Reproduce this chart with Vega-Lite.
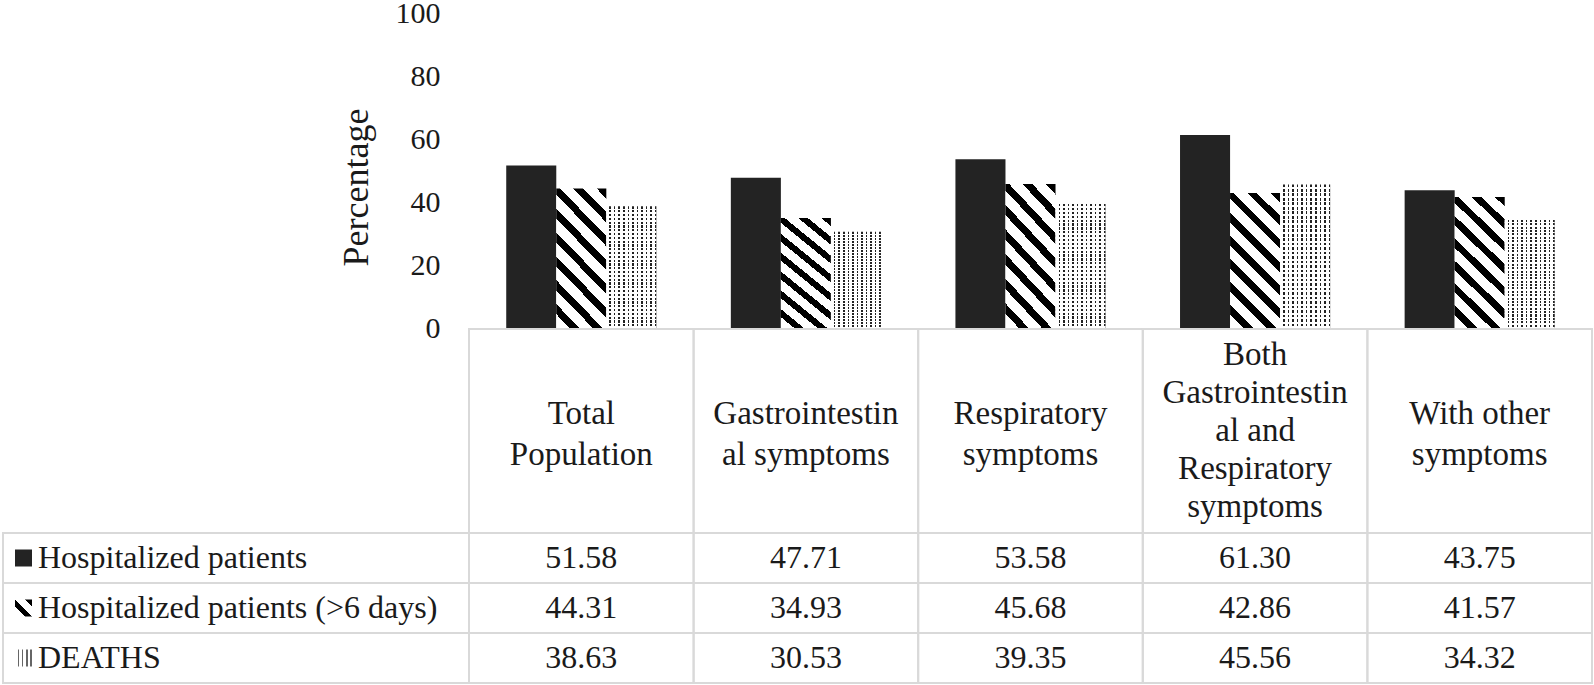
{
  "$schema": "https://vega.github.io/schema/vega-lite/v6.json",
  "width": 1594,
  "height": 685,
  "autosize": {"type": "none"},
  "padding": 0,
  "background": "white",
  "config": {"view": {"stroke": null}},
  "datasets": {
    "bars": [
      {"cat": "Total Population", "series": "Hospitalized patients", "value": 51.58},
      {"cat": "Total Population", "series": "Hospitalized patients (>6 days)", "value": 44.31},
      {"cat": "Total Population", "series": "DEATHS", "value": 38.63},
      {"cat": "Gastrointestinal symptoms", "series": "Hospitalized patients", "value": 47.71},
      {"cat": "Gastrointestinal symptoms", "series": "Hospitalized patients (>6 days)", "value": 34.93},
      {"cat": "Gastrointestinal symptoms", "series": "DEATHS", "value": 30.53},
      {"cat": "Respiratory symptoms", "series": "Hospitalized patients", "value": 53.58},
      {"cat": "Respiratory symptoms", "series": "Hospitalized patients (>6 days)", "value": 45.68},
      {"cat": "Respiratory symptoms", "series": "DEATHS", "value": 39.35},
      {"cat": "Both Gastrointestinal and Respiratory symptoms", "series": "Hospitalized patients", "value": 61.30},
      {"cat": "Both Gastrointestinal and Respiratory symptoms", "series": "Hospitalized patients (>6 days)", "value": 42.86},
      {"cat": "Both Gastrointestinal and Respiratory symptoms", "series": "DEATHS", "value": 45.56},
      {"cat": "With other symptoms", "series": "Hospitalized patients", "value": 43.75},
      {"cat": "With other symptoms", "series": "Hospitalized patients (>6 days)", "value": 41.57},
      {"cat": "With other symptoms", "series": "DEATHS", "value": 34.32}
    ],
    "cats": [
      {"cat": "Total Population", "label": "Total|Population"},
      {"cat": "Gastrointestinal symptoms", "label": "Gastrointestin|al symptoms"},
      {"cat": "Respiratory symptoms", "label": "Respiratory|symptoms"},
      {"cat": "Both Gastrointestinal and Respiratory symptoms", "label": "Both|Gastrointestin|al and|Respiratory|symptoms"},
      {"cat": "With other symptoms", "label": "With other|symptoms"}
    ],
    "series": [
      {"series": "Hospitalized patients"},
      {"series": "Hospitalized patients (>6 days)"},
      {"series": "DEATHS"}
    ]
  },
  "resolve": {"scale": {"x": "independent", "y": "independent", "xOffset": "independent"}},
  "layer": [
    {
      "data": {"name": "bars"},
      "mark": {"type": "bar"},
      "encoding": {
        "x": {"field": "cat", "type": "nominal", "axis": null,
          "scale": {"domain": ["Total Population", "Gastrointestinal symptoms", "Respiratory symptoms", "Both Gastrointestinal and Respiratory symptoms", "With other symptoms"], "range": [469, 1592], "paddingInner": 0, "paddingOuter": 0}},
        "xOffset": {"field": "series", "type": "nominal",
          "scale": {"domain": ["Hospitalized patients", "Hospitalized patients (>6 days)", "DEATHS"], "paddingInner": 0, "paddingOuter": 0.744}},
        "y": {"field": "value", "type": "quantitative",
          "scale": {"domain": [0, 100], "range": [328, 13], "nice": false, "zero": true},
          "axis": {"orient": "left", "offset": -440, "domain": false, "ticks": false, "grid": false, "labelPadding": 0,
            "values": [0, 20, 40, 60, 80, 100], "labelFont": "Liberation Serif", "labelFontSize": 30, "labelColor": "#1a1a1a",
            "labelFlush": false, "labelOverlap": false,
            "title": "Percentage", "titleFont": "Liberation Serif", "titleFontSize": 36, "titleFontWeight": "normal", "titleColor": "#1a1a1a",
            "titleAngle": -90, "titleX": -73, "titleY": 187, "titleAlign": "center", "titleBaseline": "alphabetic"}},
        "fill": {
          "condition": [
            {"test": "datum.series === 'Hospitalized patients (>6 days)'", "value": {"gradient": "linear", "x1": 0, "y1": 1, "x2": 0.4463, "y2": -0.2051, "stops": [
              {"offset": 0, "color": "#ffffff"}, {"offset": 0.072, "color": "#ffffff"}, {"offset": 0.072, "color": "#000000"}, {"offset": 0.125, "color": "#000000"},
              {"offset": 0.125, "color": "#ffffff"}, {"offset": 0.197, "color": "#ffffff"}, {"offset": 0.197, "color": "#000000"}, {"offset": 0.25, "color": "#000000"},
              {"offset": 0.25, "color": "#ffffff"}, {"offset": 0.322, "color": "#ffffff"}, {"offset": 0.322, "color": "#000000"}, {"offset": 0.375, "color": "#000000"},
              {"offset": 0.375, "color": "#ffffff"}, {"offset": 0.447, "color": "#ffffff"}, {"offset": 0.447, "color": "#000000"}, {"offset": 0.5, "color": "#000000"},
              {"offset": 0.5, "color": "#ffffff"}, {"offset": 0.572, "color": "#ffffff"}, {"offset": 0.572, "color": "#000000"}, {"offset": 0.625, "color": "#000000"},
              {"offset": 0.625, "color": "#ffffff"}, {"offset": 0.697, "color": "#ffffff"}, {"offset": 0.697, "color": "#000000"}, {"offset": 0.75, "color": "#000000"},
              {"offset": 0.75, "color": "#ffffff"}, {"offset": 0.822, "color": "#ffffff"}, {"offset": 0.822, "color": "#000000"}, {"offset": 0.875, "color": "#000000"},
              {"offset": 0.875, "color": "#ffffff"}, {"offset": 0.947, "color": "#ffffff"}, {"offset": 0.947, "color": "#000000"}, {"offset": 1, "color": "#000000"}
            ]}},
            {"test": "datum.series === 'DEATHS'", "value": {"gradient": "linear", "x1": 0, "y1": 0, "x2": 1, "y2": 0, "stops": [
              {"offset": 0, "color": "#ffffff"}, {"offset": 0.06, "color": "#ffffff"}, {"offset": 0.06, "color": "#222222"}, {"offset": 0.0909, "color": "#222222"},
              {"offset": 0.0909, "color": "#ffffff"}, {"offset": 0.1509, "color": "#ffffff"}, {"offset": 0.1509, "color": "#222222"}, {"offset": 0.1818, "color": "#222222"},
              {"offset": 0.1818, "color": "#ffffff"}, {"offset": 0.2418, "color": "#ffffff"}, {"offset": 0.2418, "color": "#222222"}, {"offset": 0.2727, "color": "#222222"},
              {"offset": 0.2727, "color": "#ffffff"}, {"offset": 0.3327, "color": "#ffffff"}, {"offset": 0.3327, "color": "#222222"}, {"offset": 0.3636, "color": "#222222"},
              {"offset": 0.3636, "color": "#ffffff"}, {"offset": 0.4236, "color": "#ffffff"}, {"offset": 0.4236, "color": "#222222"}, {"offset": 0.4545, "color": "#222222"},
              {"offset": 0.4545, "color": "#ffffff"}, {"offset": 0.5145, "color": "#ffffff"}, {"offset": 0.5145, "color": "#222222"}, {"offset": 0.5455, "color": "#222222"},
              {"offset": 0.5455, "color": "#ffffff"}, {"offset": 0.6055, "color": "#ffffff"}, {"offset": 0.6055, "color": "#222222"}, {"offset": 0.6364, "color": "#222222"},
              {"offset": 0.6364, "color": "#ffffff"}, {"offset": 0.6964, "color": "#ffffff"}, {"offset": 0.6964, "color": "#222222"}, {"offset": 0.7273, "color": "#222222"},
              {"offset": 0.7273, "color": "#ffffff"}, {"offset": 0.7873, "color": "#ffffff"}, {"offset": 0.7873, "color": "#222222"}, {"offset": 0.8182, "color": "#222222"},
              {"offset": 0.8182, "color": "#ffffff"}, {"offset": 0.8782, "color": "#ffffff"}, {"offset": 0.8782, "color": "#222222"}, {"offset": 0.9091, "color": "#222222"},
              {"offset": 0.9091, "color": "#ffffff"}, {"offset": 0.9691, "color": "#ffffff"}, {"offset": 0.9691, "color": "#222222"}, {"offset": 1, "color": "#222222"}
            ]}}
          ],
          "value": "#232323"
        }
      }
    },
    {
      "data": {"name": "bars"},
      "transform": [{"filter": "datum.series === 'DEATHS'"}],
      "mark": {"type": "bar"},
      "encoding": {
        "x": {"field": "cat", "type": "nominal", "axis": null,
          "scale": {"domain": ["Total Population", "Gastrointestinal symptoms", "Respiratory symptoms", "Both Gastrointestinal and Respiratory symptoms", "With other symptoms"], "range": [469, 1592], "paddingInner": 0, "paddingOuter": 0}},
        "xOffset": {"field": "series", "type": "nominal",
          "scale": {"domain": ["Hospitalized patients", "Hospitalized patients (>6 days)", "DEATHS"], "paddingInner": 0, "paddingOuter": 0.744}},
        "y": {"field": "value", "type": "quantitative", "axis": null,
          "scale": {"domain": [0, 100], "range": [328, 13], "nice": false, "zero": true}},
        "fill": {"value": {"gradient": "linear", "x1": 0, "y1": 0, "x2": 0, "y2": 1, "stops": [
          {"offset": 0, "color": "rgba(255,255,255,0)"}, {"offset": 0.01875, "color": "rgba(255,255,255,0)"}, {"offset": 0.01875, "color": "#ffffff"}, {"offset": 0.03125, "color": "#ffffff"},
          {"offset": 0.03125, "color": "rgba(255,255,255,0)"}, {"offset": 0.05, "color": "rgba(255,255,255,0)"}, {"offset": 0.05, "color": "#ffffff"}, {"offset": 0.0625, "color": "#ffffff"},
          {"offset": 0.0625, "color": "rgba(255,255,255,0)"}, {"offset": 0.08125, "color": "rgba(255,255,255,0)"}, {"offset": 0.08125, "color": "#ffffff"}, {"offset": 0.09375, "color": "#ffffff"},
          {"offset": 0.09375, "color": "rgba(255,255,255,0)"}, {"offset": 0.1125, "color": "rgba(255,255,255,0)"}, {"offset": 0.1125, "color": "#ffffff"}, {"offset": 0.125, "color": "#ffffff"},
          {"offset": 0.125, "color": "rgba(255,255,255,0)"}, {"offset": 0.14375, "color": "rgba(255,255,255,0)"}, {"offset": 0.14375, "color": "#ffffff"}, {"offset": 0.15625, "color": "#ffffff"},
          {"offset": 0.15625, "color": "rgba(255,255,255,0)"}, {"offset": 0.175, "color": "rgba(255,255,255,0)"}, {"offset": 0.175, "color": "#ffffff"}, {"offset": 0.1875, "color": "#ffffff"},
          {"offset": 0.1875, "color": "rgba(255,255,255,0)"}, {"offset": 0.20625, "color": "rgba(255,255,255,0)"}, {"offset": 0.20625, "color": "#ffffff"}, {"offset": 0.21875, "color": "#ffffff"},
          {"offset": 0.21875, "color": "rgba(255,255,255,0)"}, {"offset": 0.2375, "color": "rgba(255,255,255,0)"}, {"offset": 0.2375, "color": "#ffffff"}, {"offset": 0.25, "color": "#ffffff"},
          {"offset": 0.25, "color": "rgba(255,255,255,0)"}, {"offset": 0.26875, "color": "rgba(255,255,255,0)"}, {"offset": 0.26875, "color": "#ffffff"}, {"offset": 0.28125, "color": "#ffffff"},
          {"offset": 0.28125, "color": "rgba(255,255,255,0)"}, {"offset": 0.3, "color": "rgba(255,255,255,0)"}, {"offset": 0.3, "color": "#ffffff"}, {"offset": 0.3125, "color": "#ffffff"},
          {"offset": 0.3125, "color": "rgba(255,255,255,0)"}, {"offset": 0.33125, "color": "rgba(255,255,255,0)"}, {"offset": 0.33125, "color": "#ffffff"}, {"offset": 0.34375, "color": "#ffffff"},
          {"offset": 0.34375, "color": "rgba(255,255,255,0)"}, {"offset": 0.3625, "color": "rgba(255,255,255,0)"}, {"offset": 0.3625, "color": "#ffffff"}, {"offset": 0.375, "color": "#ffffff"},
          {"offset": 0.375, "color": "rgba(255,255,255,0)"}, {"offset": 0.39375, "color": "rgba(255,255,255,0)"}, {"offset": 0.39375, "color": "#ffffff"}, {"offset": 0.40625, "color": "#ffffff"},
          {"offset": 0.40625, "color": "rgba(255,255,255,0)"}, {"offset": 0.425, "color": "rgba(255,255,255,0)"}, {"offset": 0.425, "color": "#ffffff"}, {"offset": 0.4375, "color": "#ffffff"},
          {"offset": 0.4375, "color": "rgba(255,255,255,0)"}, {"offset": 0.45625, "color": "rgba(255,255,255,0)"}, {"offset": 0.45625, "color": "#ffffff"}, {"offset": 0.46875, "color": "#ffffff"},
          {"offset": 0.46875, "color": "rgba(255,255,255,0)"}, {"offset": 0.4875, "color": "rgba(255,255,255,0)"}, {"offset": 0.4875, "color": "#ffffff"}, {"offset": 0.5, "color": "#ffffff"},
          {"offset": 0.5, "color": "rgba(255,255,255,0)"}, {"offset": 0.51875, "color": "rgba(255,255,255,0)"}, {"offset": 0.51875, "color": "#ffffff"}, {"offset": 0.53125, "color": "#ffffff"},
          {"offset": 0.53125, "color": "rgba(255,255,255,0)"}, {"offset": 0.55, "color": "rgba(255,255,255,0)"}, {"offset": 0.55, "color": "#ffffff"}, {"offset": 0.5625, "color": "#ffffff"},
          {"offset": 0.5625, "color": "rgba(255,255,255,0)"}, {"offset": 0.58125, "color": "rgba(255,255,255,0)"}, {"offset": 0.58125, "color": "#ffffff"}, {"offset": 0.59375, "color": "#ffffff"},
          {"offset": 0.59375, "color": "rgba(255,255,255,0)"}, {"offset": 0.6125, "color": "rgba(255,255,255,0)"}, {"offset": 0.6125, "color": "#ffffff"}, {"offset": 0.625, "color": "#ffffff"},
          {"offset": 0.625, "color": "rgba(255,255,255,0)"}, {"offset": 0.64375, "color": "rgba(255,255,255,0)"}, {"offset": 0.64375, "color": "#ffffff"}, {"offset": 0.65625, "color": "#ffffff"},
          {"offset": 0.65625, "color": "rgba(255,255,255,0)"}, {"offset": 0.675, "color": "rgba(255,255,255,0)"}, {"offset": 0.675, "color": "#ffffff"}, {"offset": 0.6875, "color": "#ffffff"},
          {"offset": 0.6875, "color": "rgba(255,255,255,0)"}, {"offset": 0.70625, "color": "rgba(255,255,255,0)"}, {"offset": 0.70625, "color": "#ffffff"}, {"offset": 0.71875, "color": "#ffffff"},
          {"offset": 0.71875, "color": "rgba(255,255,255,0)"}, {"offset": 0.7375, "color": "rgba(255,255,255,0)"}, {"offset": 0.7375, "color": "#ffffff"}, {"offset": 0.75, "color": "#ffffff"},
          {"offset": 0.75, "color": "rgba(255,255,255,0)"}, {"offset": 0.76875, "color": "rgba(255,255,255,0)"}, {"offset": 0.76875, "color": "#ffffff"}, {"offset": 0.78125, "color": "#ffffff"},
          {"offset": 0.78125, "color": "rgba(255,255,255,0)"}, {"offset": 0.8, "color": "rgba(255,255,255,0)"}, {"offset": 0.8, "color": "#ffffff"}, {"offset": 0.8125, "color": "#ffffff"},
          {"offset": 0.8125, "color": "rgba(255,255,255,0)"}, {"offset": 0.83125, "color": "rgba(255,255,255,0)"}, {"offset": 0.83125, "color": "#ffffff"}, {"offset": 0.84375, "color": "#ffffff"},
          {"offset": 0.84375, "color": "rgba(255,255,255,0)"}, {"offset": 0.8625, "color": "rgba(255,255,255,0)"}, {"offset": 0.8625, "color": "#ffffff"}, {"offset": 0.875, "color": "#ffffff"},
          {"offset": 0.875, "color": "rgba(255,255,255,0)"}, {"offset": 0.89375, "color": "rgba(255,255,255,0)"}, {"offset": 0.89375, "color": "#ffffff"}, {"offset": 0.90625, "color": "#ffffff"},
          {"offset": 0.90625, "color": "rgba(255,255,255,0)"}, {"offset": 0.925, "color": "rgba(255,255,255,0)"}, {"offset": 0.925, "color": "#ffffff"}, {"offset": 0.9375, "color": "#ffffff"},
          {"offset": 0.9375, "color": "rgba(255,255,255,0)"}, {"offset": 0.95625, "color": "rgba(255,255,255,0)"}, {"offset": 0.95625, "color": "#ffffff"}, {"offset": 0.96875, "color": "#ffffff"},
          {"offset": 0.96875, "color": "rgba(255,255,255,0)"}, {"offset": 0.9875, "color": "rgba(255,255,255,0)"}, {"offset": 0.9875, "color": "#ffffff"}, {"offset": 1, "color": "#ffffff"}
        ]}}
      }
    },
    {
      "data": {"name": "cats"},
      "mark": {"type": "rect", "fill": "transparent", "stroke": "#d9d9d9", "strokeWidth": 2},
      "encoding": {
        "x": {"field": "cat", "type": "nominal", "axis": null,
          "scale": {"domain": ["Total Population", "Gastrointestinal symptoms", "Respiratory symptoms", "Both Gastrointestinal and Respiratory symptoms", "With other symptoms"], "range": [469, 1592], "paddingInner": 0, "paddingOuter": 0}},
        "y": {"datum": "header", "type": "nominal", "axis": null,
          "scale": {"domain": ["header"], "range": [329, 533], "paddingInner": 0, "paddingOuter": 0}}
      }
    },
    {
      "data": {"name": "cats"},
      "transform": [{"filter": "datum.cat !== 'Both Gastrointestinal and Respiratory symptoms'"}],
      "mark": {"type": "text", "font": "Liberation Serif", "fontSize": 33, "lineBreak": "|", "lineHeight": 41, "dy": -17, "color": "#1a1a1a", "align": "center", "baseline": "middle"},
      "encoding": {
        "x": {"field": "cat", "type": "nominal", "axis": null,
          "scale": {"domain": ["Total Population", "Gastrointestinal symptoms", "Respiratory symptoms", "Both Gastrointestinal and Respiratory symptoms", "With other symptoms"], "range": [469, 1592], "paddingInner": 0, "paddingOuter": 0}},
        "y": {"datum": "header", "type": "nominal", "axis": null,
          "scale": {"domain": ["header"], "range": [329, 533], "paddingInner": 0, "paddingOuter": 0}},
        "text": {"field": "label"}
      }
    },
    {
      "data": {"name": "cats"},
      "transform": [{"filter": "datum.cat === 'Both Gastrointestinal and Respiratory symptoms'"}],
      "mark": {"type": "text", "font": "Liberation Serif", "fontSize": 33, "lineBreak": "|", "lineHeight": 38, "dy": -76, "color": "#1a1a1a", "align": "center", "baseline": "middle"},
      "encoding": {
        "x": {"field": "cat", "type": "nominal", "axis": null,
          "scale": {"domain": ["Total Population", "Gastrointestinal symptoms", "Respiratory symptoms", "Both Gastrointestinal and Respiratory symptoms", "With other symptoms"], "range": [469, 1592], "paddingInner": 0, "paddingOuter": 0}},
        "y": {"datum": "header", "type": "nominal", "axis": null,
          "scale": {"domain": ["header"], "range": [329, 533], "paddingInner": 0, "paddingOuter": 0}},
        "text": {"field": "label"}
      }
    },
    {
      "data": {"name": "bars"},
      "mark": {"type": "rect", "fill": "transparent", "stroke": "#d9d9d9", "strokeWidth": 2},
      "encoding": {
        "x": {"field": "cat", "type": "nominal", "axis": null,
          "scale": {"domain": ["Total Population", "Gastrointestinal symptoms", "Respiratory symptoms", "Both Gastrointestinal and Respiratory symptoms", "With other symptoms"], "range": [469, 1592], "paddingInner": 0, "paddingOuter": 0}},
        "y": {"field": "series", "type": "nominal", "axis": null,
          "scale": {"domain": ["Hospitalized patients", "Hospitalized patients (>6 days)", "DEATHS"], "range": [533, 683], "paddingInner": 0, "paddingOuter": 0}}
      }
    },
    {
      "data": {"name": "bars"},
      "mark": {"type": "text", "font": "Liberation Serif", "fontSize": 32, "color": "#1a1a1a", "align": "center", "baseline": "middle"},
      "encoding": {
        "x": {"field": "cat", "type": "nominal", "axis": null,
          "scale": {"domain": ["Total Population", "Gastrointestinal symptoms", "Respiratory symptoms", "Both Gastrointestinal and Respiratory symptoms", "With other symptoms"], "range": [469, 1592], "paddingInner": 0, "paddingOuter": 0}},
        "y": {"field": "series", "type": "nominal", "axis": null,
          "scale": {"domain": ["Hospitalized patients", "Hospitalized patients (>6 days)", "DEATHS"], "range": [533, 683], "paddingInner": 0, "paddingOuter": 0}},
        "text": {"field": "value", "type": "quantitative", "format": ".2f"}
      }
    },
    {
      "data": {"name": "series"},
      "mark": {"type": "rect", "fill": "transparent", "stroke": "#d9d9d9", "strokeWidth": 2},
      "encoding": {
        "x": {"datum": "legend", "type": "nominal", "axis": null,
          "scale": {"domain": ["legend"], "range": [3, 469], "paddingInner": 0, "paddingOuter": 0}},
        "y": {"field": "series", "type": "nominal", "axis": null,
          "scale": {"domain": ["Hospitalized patients", "Hospitalized patients (>6 days)", "DEATHS"], "range": [533, 683], "paddingInner": 0, "paddingOuter": 0}}
      }
    },
    {
      "data": {"name": "series"},
      "mark": {"type": "text", "font": "Liberation Serif", "fontSize": 32, "color": "#1a1a1a", "align": "left", "baseline": "middle"},
      "encoding": {
        "x": {"datum": "legend", "type": "nominal", "axis": null,
          "scale": {"domain": ["legend"], "range": [37, 39], "paddingInner": 0, "paddingOuter": 0}},
        "y": {"field": "series", "type": "nominal", "axis": null,
          "scale": {"domain": ["Hospitalized patients", "Hospitalized patients (>6 days)", "DEATHS"], "range": [533, 683], "paddingInner": 0, "paddingOuter": 0}},
        "text": {"field": "series"}
      }
    },
    {
      "data": {"name": "series"},
      "mark": {"type": "point", "shape": "square", "size": 289, "filled": true, "opacity": 1},
      "encoding": {
        "x": {"datum": "legend", "type": "nominal", "axis": null,
          "scale": {"domain": ["legend"], "range": [22.5, 24.5], "paddingInner": 0, "paddingOuter": 0}},
        "y": {"field": "series", "type": "nominal", "axis": null,
          "scale": {"domain": ["Hospitalized patients", "Hospitalized patients (>6 days)", "DEATHS"], "range": [533, 683], "paddingInner": 0, "paddingOuter": 0}},
        "fill": {
          "condition": [
            {"test": "datum.series === 'Hospitalized patients (>6 days)'", "value": {"gradient": "linear", "x1": 0, "y1": 1, "x2": 1, "y2": 0, "stops": [
              {"offset": 0, "color": "#ffffff"}, {"offset": 0.3, "color": "#ffffff"}, {"offset": 0.3, "color": "#000000"}, {"offset": 0.5, "color": "#000000"},
              {"offset": 0.5, "color": "#ffffff"}, {"offset": 0.8, "color": "#ffffff"}, {"offset": 0.8, "color": "#000000"}, {"offset": 1, "color": "#000000"}
            ]}},
            {"test": "datum.series === 'DEATHS'", "value": {"gradient": "linear", "x1": 0, "y1": 0, "x2": 1, "y2": 0, "stops": [
              {"offset": 0, "color": "#ffffff"}, {"offset": 0.15, "color": "#ffffff"}, {"offset": 0.15, "color": "#666666"}, {"offset": 0.25, "color": "#666666"},
              {"offset": 0.25, "color": "#ffffff"}, {"offset": 0.4, "color": "#ffffff"}, {"offset": 0.4, "color": "#666666"}, {"offset": 0.5, "color": "#666666"},
              {"offset": 0.5, "color": "#ffffff"}, {"offset": 0.65, "color": "#ffffff"}, {"offset": 0.65, "color": "#666666"}, {"offset": 0.75, "color": "#666666"},
              {"offset": 0.75, "color": "#ffffff"}, {"offset": 0.9, "color": "#ffffff"}, {"offset": 0.9, "color": "#666666"}, {"offset": 1, "color": "#666666"}
            ]}}
          ],
          "value": "#232323"
        }
      }
    }
  ]
}
